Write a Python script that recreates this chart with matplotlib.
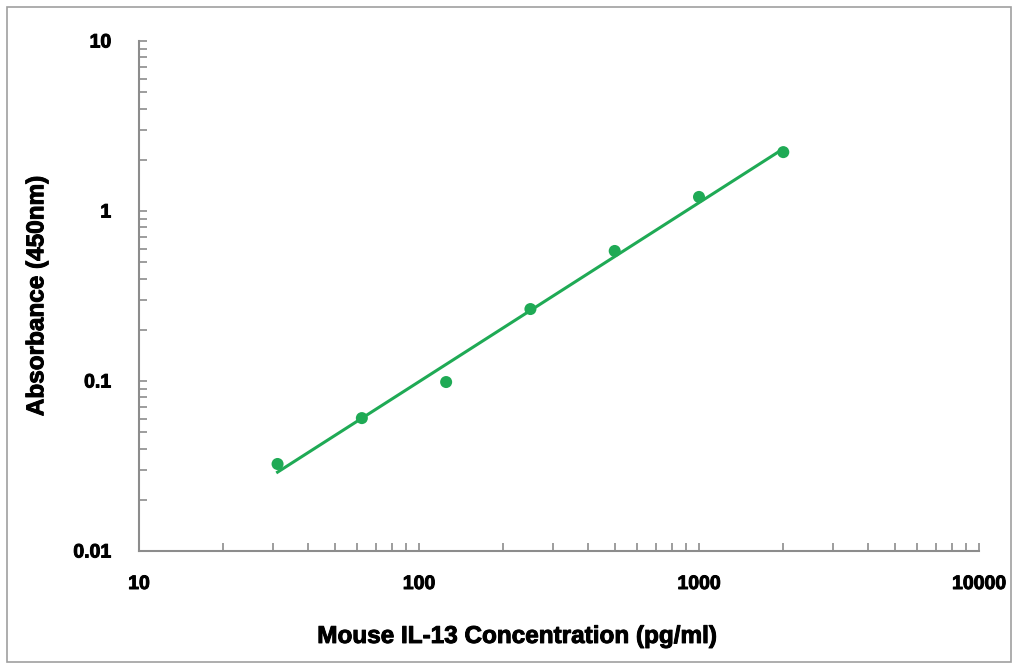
import numpy as np
import matplotlib
matplotlib.use("Agg")
import matplotlib.pyplot as plt
import matplotlib.patheffects as pe
from matplotlib.patches import Rectangle
from matplotlib.ticker import LogLocator, FixedLocator, NullFormatter

# Standard curve data
concentration = [31.25, 62.5, 125, 250, 500, 1000, 2000]
absorbance = [0.0325, 0.0605, 0.0986, 0.265, 0.582, 1.21, 2.22]

x_ticks = [10, 100, 1000, 10000]
x_tick_labels = ["10", "100", "1000", "10000"]
y_ticks = [0.01, 0.1, 1, 10]
y_tick_labels = ["0.01", "0.1", "1", "10"]

GREEN = "#1FAA55"
AXIS_GREY = "#8C8C8C"
HEAVY = [pe.withStroke(linewidth=0.7, foreground="black")]

plt.rcParams["font.family"] = ["Liberation Sans", "DejaVu Sans"]

fig = plt.figure(figsize=(10.16, 6.64), dpi=100)
ax = fig.add_axes([139 / 1016, 1 - 551 / 664, 840 / 1016, 510 / 664])

# Outer chart border
fig.patches.append(Rectangle((7 / 1016, 2 / 664), 1004 / 1016, 655 / 664,
                             transform=fig.transFigure, fill=False,
                             edgecolor="#A0A0A0", linewidth=1.2))

# Power trendline (linear fit in log-log space)
lx = np.log10(concentration)
ly = np.log10(absorbance)
slope, intercept = np.polyfit(lx, ly, 1)
xs = np.array([concentration[0], concentration[-1]])
ax.plot(xs, 10 ** (intercept + slope * np.log10(xs)), color=GREEN,
        linewidth=2.2, zorder=2)

ax.scatter(concentration, absorbance, s=75, color=GREEN, zorder=3,
           edgecolors="none")

ax.set_xscale("log")
ax.set_yscale("log")
ax.set_xlim(10, 10000)
ax.set_ylim(0.01, 10)

ax.xaxis.set_major_locator(FixedLocator(x_ticks))
ax.set_xticklabels(x_tick_labels)
ax.yaxis.set_major_locator(FixedLocator(y_ticks))
ax.set_yticklabels(y_tick_labels)
ax.xaxis.set_minor_locator(LogLocator(base=10, subs=np.arange(2, 10)))
ax.yaxis.set_minor_locator(LogLocator(base=10, subs=np.arange(2, 10)))
ax.xaxis.set_minor_formatter(NullFormatter())
ax.yaxis.set_minor_formatter(NullFormatter())

for side in ("top", "right"):
    ax.spines[side].set_visible(False)
for side in ("left", "bottom"):
    ax.spines[side].set_color(AXIS_GREY)
    ax.spines[side].set_linewidth(1.5)

ax.tick_params(which="both", direction="in", color=AXIS_GREY, width=1.2,
               length=6)
ax.tick_params(axis="x", which="major", pad=18, labelsize=14)
ax.tick_params(axis="y", which="major", pad=20, labelsize=14)
for lab in ax.get_xticklabels() + ax.get_yticklabels():
    lab.set_fontweight("bold")
    lab.set_path_effects(HEAVY)

ax.set_xlabel("Mouse IL-13 Concentration (pg/ml)", fontsize=17.5,
              fontweight="bold", path_effects=HEAVY)
ax.xaxis.set_label_coords(0.45, -0.145)
ax.set_ylabel("Absorbance (450nm)", fontsize=17.5, fontweight="bold",
              path_effects=HEAVY)
ax.yaxis.set_label_coords(-0.108, 0.5)

fig.savefig("out.png", dpi=100)
